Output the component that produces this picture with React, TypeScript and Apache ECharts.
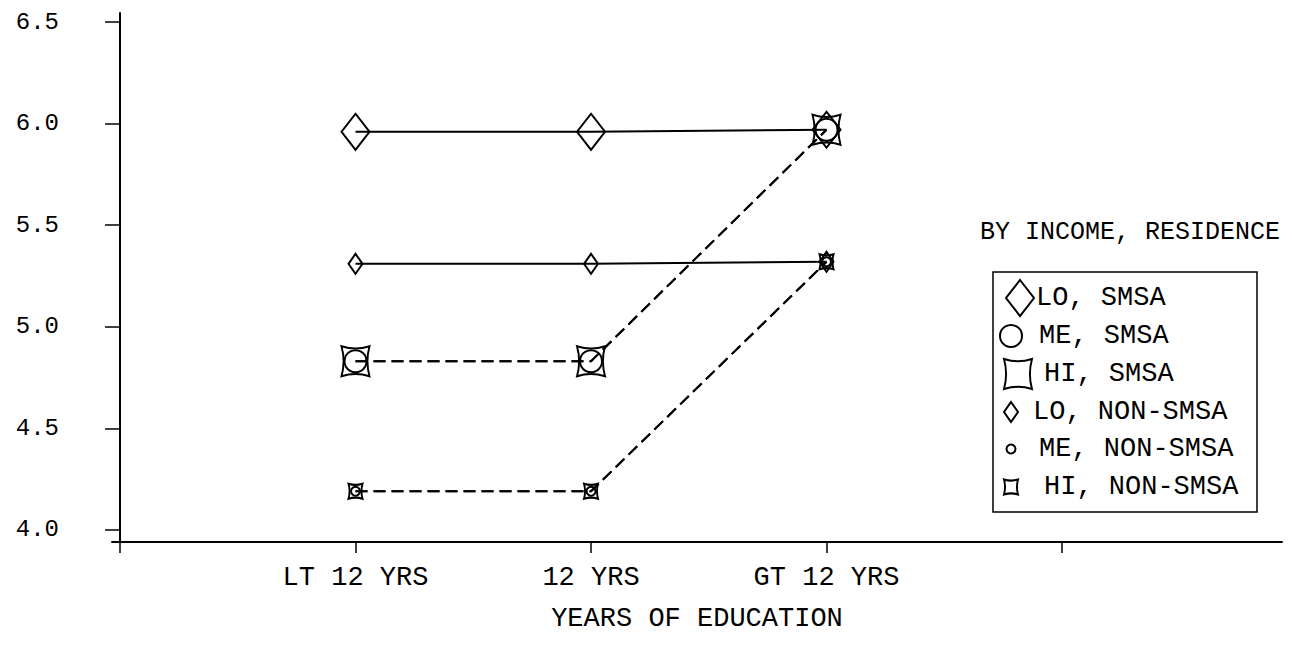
import { useEffect, useRef } from 'react';
import * as echarts from 'echarts';

// Mean scores by years of education, split by income level and residence
const categories = ['LT 12 YRS', '12 YRS', 'GT 12 YRS'];
const loSmsa = [5.96, 5.96, 5.97];
const meSmsa = [4.83, 4.83, 5.97];
const hiSmsa = [4.83, 4.83, 5.97];
const loNonSmsa = [5.31, 5.31, 5.32];
const meNonSmsa = [4.19, 4.19, 5.32];
const hiNonSmsa = [4.19, 4.19, 5.32];

const xTickValues = [0, 1, 2, 3, 4];
const xLabelValues = [1, 2, 3];
const yTickValues = [4.0, 4.5, 5.0, 5.5, 6.0, 6.5];

const xAxisName = 'YEARS OF EDUCATION';
const legendTitle = 'BY INCOME, RESIDENCE';
const legendNames = ['LO, SMSA', 'ME, SMSA', 'HI, SMSA', 'LO, NON-SMSA', 'ME, NON-SMSA', 'HI, NON-SMSA'];

const FONT = '"Liberation Mono", "DejaVu Sans Mono", monospace';
// square with inward-curving sides, used for the HI income marks
const CONCAVE_D = 'M0 0Q50 15 100 0Q85 50 100 100Q50 85 0 100Q15 50 0 0Z';

echarts.graphic.registerShape('concaveSquare', echarts.graphic.extendPath(CONCAVE_D, {}));

type Marker = { kind: 'diamond' | 'circle' | 'concave'; w: number; h: number };

const markers: Marker[] = [
  { kind: 'diamond', w: 28, h: 36 },
  { kind: 'circle', w: 22, h: 22 },
  { kind: 'concave', w: 28, h: 30 },
  { kind: 'diamond', w: 14, h: 20 },
  { kind: 'circle', w: 9, h: 9 },
  { kind: 'concave', w: 14, h: 15 },
];

const seriesValues = [loSmsa, meSmsa, hiSmsa, loNonSmsa, meNonSmsa, hiNonSmsa];
const dashed = [false, true, true, false, true, true];

function symbolName(m: Marker) {
  if (m.kind === 'diamond') return 'diamond';
  if (m.kind === 'circle') return 'circle';
  return 'path://' + CONCAVE_D;
}

function legendSymbol(m: Marker, cx: number, cy: number) {
  const style = { fill: 'none', stroke: '#000', lineWidth: 2 };
  if (m.kind === 'diamond') {
    return {
      type: 'polygon',
      shape: {
        points: [
          [cx, cy - m.h / 2],
          [cx + m.w / 2, cy],
          [cx, cy + m.h / 2],
          [cx - m.w / 2, cy],
        ],
      },
      style,
    };
  }
  if (m.kind === 'circle') {
    return { type: 'circle', shape: { cx, cy, r: m.w / 2 }, style };
  }
  return {
    type: 'concaveSquare',
    x: cx - m.w / 2,
    y: cy - m.h / 2,
    scaleX: m.w / 100,
    scaleY: m.h / 100,
    style: { ...style, strokeNoScale: true },
  };
}

export default function App() {
  const ref = useRef<HTMLDivElement>(null);

  useEffect(() => {
    if (!ref.current) return;
    const chart = echarts.init(ref.current, null, { renderer: 'svg' });

    const boxLeft = 993;
    const boxTop = 272;
    const boxRight = 1257;
    const boxBottom = 512;
    const rowY = [298, 336, 374, 412, 449, 487];
    const symbolDx = [27, 18, 25, 18, 18, 18];
    const textDx = [43, 46, 51, 40, 46, 51];

    const legendElements: any[] = [
      {
        type: 'rect',
        shape: { x: boxLeft, y: boxTop, width: boxRight - boxLeft, height: boxBottom - boxTop },
        style: { fill: 'none', stroke: '#000', lineWidth: 1.5 },
      },
      {
        type: 'text',
        x: 1280,
        y: 232,
        style: {
          text: legendTitle,
          fontFamily: FONT,
          fontSize: 25,
          fill: '#000',
          align: 'right',
          verticalAlign: 'middle',
        },
      },
    ];
    legendNames.forEach((name, i) => {
      legendElements.push(legendSymbol(markers[i], boxLeft + symbolDx[i], rowY[i]));
      legendElements.push({
        type: 'text',
        x: boxLeft + textDx[i],
        y: rowY[i],
        style: {
          text: name,
          fontFamily: FONT,
          fontSize: 27,
          fill: '#000',
          align: 'left',
          verticalAlign: 'middle',
        },
      });
    });

    const series = legendNames.map((name, i) => ({
      name,
      type: 'line',
      data: categories.map((_, j) => [j + 1, seriesValues[i][j]]),
      symbol: symbolName(markers[i]),
      symbolSize: [markers[i].w, markers[i].h],
      showAllSymbol: true,
      lineStyle: {
        color: '#000',
        width: 2,
        type: dashed[i] ? [12, 6] : 'solid',
      },
      itemStyle: {
        color: 'rgba(0,0,0,0)',
        borderColor: '#000',
        borderWidth: 2,
      },
      emphasis: { disabled: true },
      z: dashed[i] ? 2 : 3,
    }));

    chart.setOption({
      animation: false,
      backgroundColor: '#fff',
      grid: { left: 112, right: 10, top: 13, bottom: 104, containLabel: false },
      xAxis: {
        type: 'value',
        min: -0.034,
        max: 4.934,
        name: xAxisName,
        nameLocation: 'middle',
        nameGap: 63,
        nameTextStyle: { fontFamily: FONT, fontSize: 27, color: '#000' },
        axisLine: { show: true, lineStyle: { color: '#000', width: 2 } },
        axisTick: {
          show: true,
          inside: false,
          length: 11,
          customValues: xTickValues,
          lineStyle: { color: '#000', width: 1.5 },
        },
        axisLabel: {
          customValues: xLabelValues,
          margin: 22,
          fontFamily: FONT,
          fontSize: 27,
          color: '#000',
          formatter: (v: number) => categories[Math.round(v) - 1] ?? '',
        },
        splitLine: { show: false },
      },
      yAxis: {
        type: 'value',
        min: 3.94,
        max: 6.545,
        axisLine: { show: true, lineStyle: { color: '#000', width: 2 } },
        axisTick: {
          show: true,
          inside: false,
          length: 15,
          customValues: yTickValues,
          lineStyle: { color: '#000', width: 1.5 },
        },
        axisLabel: {
          customValues: yTickValues,
          margin: 53,
          fontFamily: FONT,
          fontSize: 24,
          color: '#000',
          formatter: (v: number) => v.toFixed(1),
        },
        splitLine: { show: false },
      },
      series,
      graphic: legendElements,
    });

    return () => chart.dispose();
  }, []);

  return (
    <div
      ref={ref}
      style={{ position: 'fixed', left: 0, top: 0, width: 1292, height: 646, background: '#fff' }}
    />
  );
}
